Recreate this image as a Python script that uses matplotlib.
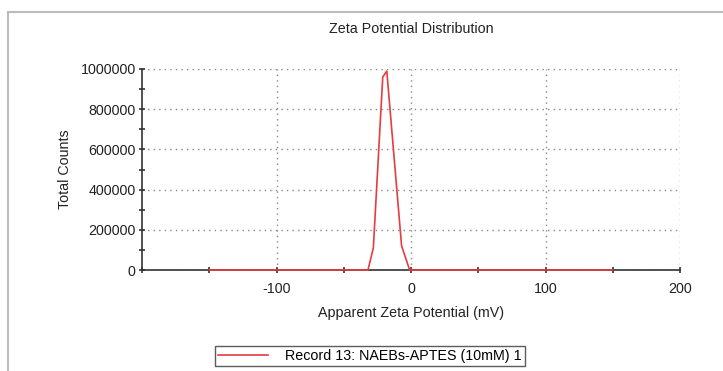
import matplotlib
matplotlib.use("Agg")
import matplotlib.pyplot as plt
from matplotlib.lines import Line2D
from matplotlib.ticker import MultipleLocator, FuncFormatter

plt.rcParams["font.family"] = ["Liberation Sans", "DejaVu Sans"]
plt.rcParams["axes.unicode_minus"] = False

# zeta potential (mV) vs total counts
zeta_mv = [-150, -32, -28, -21, -18, -7, -1, 150]
counts = [0, 0, 110000, 960000, 990000, 120000, 0, 0]
series_label = "Record 13: NAEBs-APTES (10mM) 1"

FS = 10.3

fig = plt.figure(figsize=(7.23, 3.71), dpi=100)
ax = fig.add_axes([142 / 723, 101 / 371, 538 / 723, 201 / 371])

line, = ax.plot(zeta_mv, counts, color="#e83a40", linewidth=1.2, label=series_label,
                zorder=5, clip_on=False)

ax.set_xlim(-200, 200)
ax.set_ylim(0, 1000000)
ax.xaxis.set_major_locator(MultipleLocator(100))
ax.xaxis.set_minor_locator(MultipleLocator(50))
ax.yaxis.set_major_locator(MultipleLocator(200000))
ax.yaxis.set_minor_locator(MultipleLocator(100000))
ax.set_xticks([-100, 0, 100, 200])
ax.yaxis.set_major_formatter(FuncFormatter(lambda v, p: f"{int(round(v))}"))

for side in ("top", "right"):
    ax.spines[side].set_visible(False)
for side in ("left", "bottom"):
    ax.spines[side].set_color("#333333")
    ax.spines[side].set_linewidth(1.2)

ax.tick_params(which="both", direction="inout", color="#333333", width=1.2,
               labelsize=FS, labelcolor="#222222")
ax.tick_params(which="major", length=5)
ax.tick_params(axis="x", which="major", pad=6)
ax.tick_params(axis="y", which="major", pad=2)
ax.tick_params(which="minor", length=4)
ax.grid(True, which="major", linestyle=(0, (1, 3)), color="#888888", linewidth=1)

ax.set_title("Zeta Potential Distribution", fontsize=FS, color="#222222", pad=26)
ax.set_xlabel("Apparent Zeta Potential (mV)", fontsize=FS, color="#222222", labelpad=7)
ax.set_ylabel("Total Counts", fontsize=FS, color="#222222", labelpad=6)

leg = fig.legend(handles=[line], loc="center", bbox_to_anchor=(370 / 723, 15 / 371),
                 fontsize=FS, frameon=True, fancybox=False, handlelength=3.5,
                 borderpad=0.2, handletextpad=1.2)
leg.get_frame().set_edgecolor("#333333")
leg.get_frame().set_linewidth(1.0)

# outer panel frame
fig.add_artist(Line2D([8 / 723, 1], [1 - 12 / 371, 1 - 12 / 371], transform=fig.transFigure,
                      color="#bbbbbb", linewidth=1.5))
fig.add_artist(Line2D([8 / 723, 8 / 723], [0, 1 - 12 / 371], transform=fig.transFigure,
                      color="#bbbbbb", linewidth=1.5))

fig.savefig("out.png", dpi=100)
